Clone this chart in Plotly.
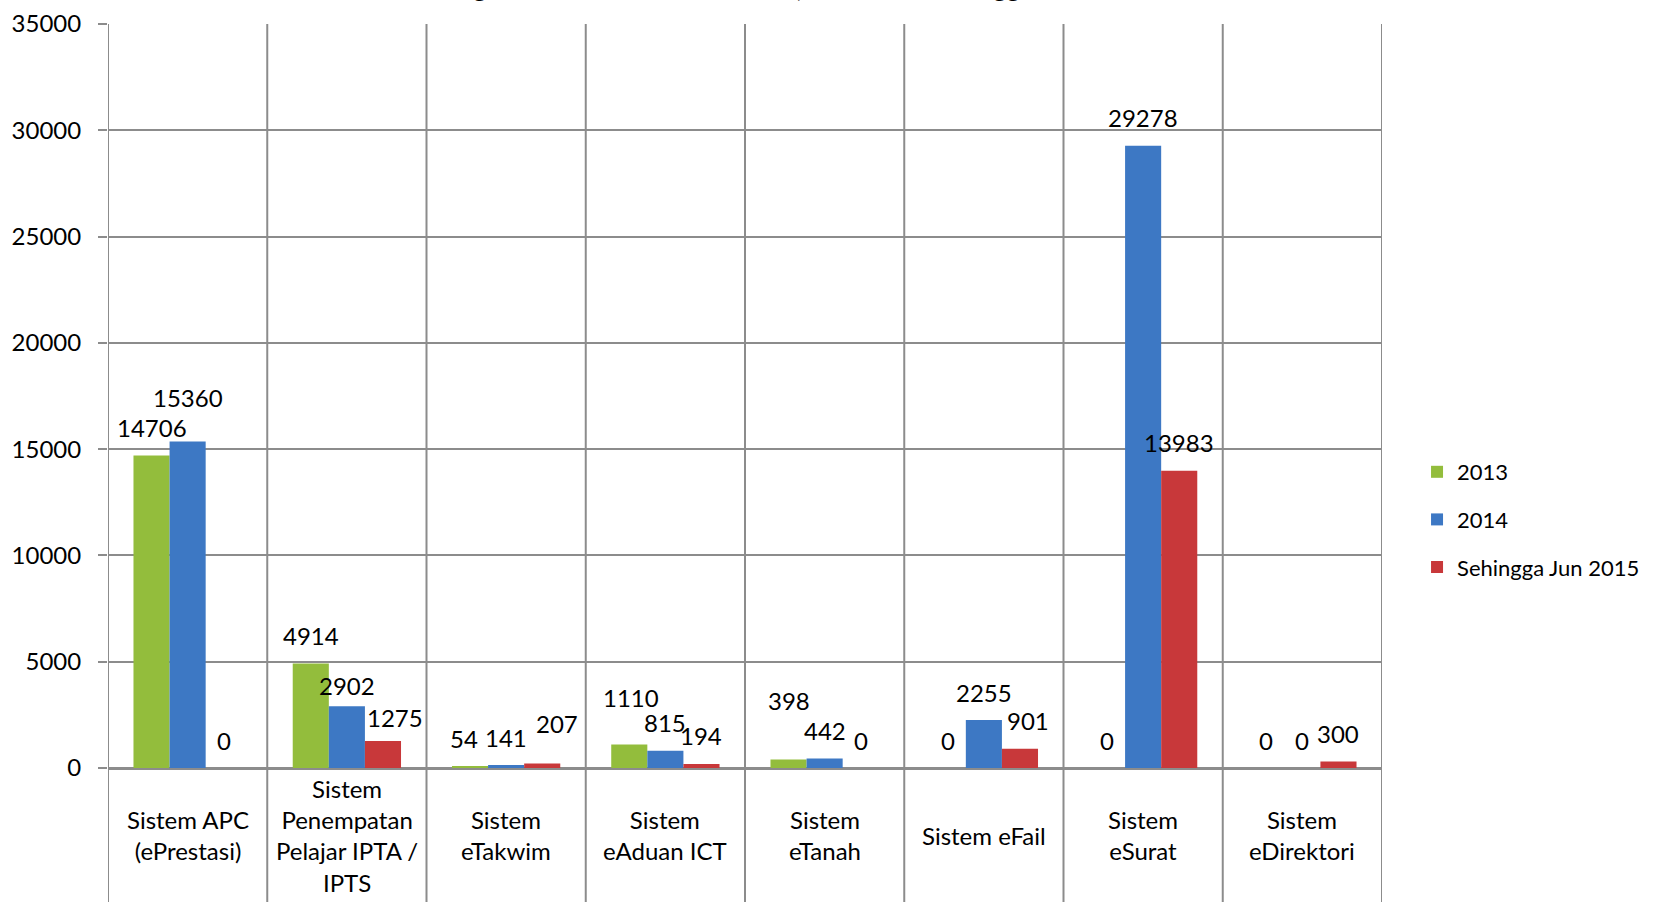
import plotly.graph_objects as go

categories = [
    "Sistem APC<br>(ePrestasi)",
    "Sistem<br>Penempatan<br>Pelajar IPTA /<br>IPTS",
    "Sistem<br>eTakwim",
    "Sistem<br>eAduan ICT",
    "Sistem<br>eTanah",
    "Sistem eFail",
    "Sistem<br>eSurat",
    "Sistem<br>eDirektori",
]
series_names = ["2013", "2014", "Sehingga Jun 2015"]
v2013 = [14706, 4914, 54, 1110, 398, 0, 0, 0]
v2014 = [15360, 2902, 141, 815, 442, 2255, 29278, 0]
v2015 = [0, 1275, 207, 194, 0, 901, 13983, 300]
values = [v2013, v2014, v2015]

colors = ["#93bd3c", "#3d78c4", "#c8383a"]

# label nudges (pixels) relative to default placement, per series
label_dx = [
    [0, 0, -6, 2, 0, 0, 0, 0],
    [0, 0, 0, 0, 0, 0, 0, 0],
    [0, 12, 15, 0, 0, 8, 0, 0],
]
label_dy = [
    [0, 0, 0, 19, 31, 0, 0, 0],
    [16, -7, 0, 0, 0, 0, 0, 0],
    [0, -5, 12, 0, 0, 0, 0, 0],
]

FONT = "Lato"
FS = 24
W, H = 1659, 902
ML, MR, MT, MB = 108, 277, 24, 134
plot_w = W - ML - MR
plot_h = H - MT - MB
n = len(categories)
bargap = 0.32
cat_px = plot_w / n
bar_px = cat_px * (1 - bargap) / 3

fig = go.Figure()
for s in range(3):
    fig.add_trace(go.Bar(
        x=list(range(n)), y=values[s], name=series_names[s],
        marker=dict(color=colors[s], line=dict(width=0)),
        legendgroup=series_names[s],
    ))

ann = []
for s in range(3):
    for i in range(n):
        ann.append(dict(
            x=i, y=values[s][i], xref="x", yref="y",
            text=str(values[s][i]), showarrow=False,
            xshift=(s - 1) * bar_px + label_dx[s][i],
            yshift=28 + label_dy[s][i],
            yanchor="middle", xanchor="center",
            font=dict(family=FONT, size=FS, color="#000000"),
        ))

# category labels centred below axis
for i, c in enumerate(categories):
    ann.append(dict(
        x=i, y=0, xref="x", yref="paper", text=c, showarrow=False,
        yshift=-67, yanchor="middle", xanchor="center",
        font=dict(family=FONT, size=FS, color="#000000"),
    ))

# title (cropped at top edge as in reference)
ann.append(dict(
    x=0.5, y=1, xref="paper", yref="paper",
    text="<b>Statistik Log Masuk Sistem Tahun 2013, 2014 Dan Sehingga Jun 2015</b>",
    showarrow=False, xanchor="center", yanchor="bottom", yshift=19,
    font=dict(family=FONT, size=26, color="#000000"),
))

shapes = []
for i in range(n + 1):
    shapes.append(dict(
        type="line", xref="x", yref="paper",
        x0=i - 0.5, x1=i - 0.5, y0=-MB / plot_h, y1=1,
        line=dict(color="#8c8c8c", width=2), layer="below",
    ))

fig.update_layout(
    width=W, height=H,
    margin=dict(l=ML, r=MR, t=MT, b=MB, pad=0, autoexpand=False),
    paper_bgcolor="white", plot_bgcolor="white",
    barmode="group", bargap=bargap, bargroupgap=0,
    font=dict(family=FONT, size=FS, color="#000000"),
    xaxis=dict(range=[-0.5, n - 0.5], showticklabels=False, showgrid=False,
               zeroline=False, showline=False, ticks=""),
    yaxis=dict(range=[0, 35000], dtick=5000, tickformat="d", showgrid=True,
               gridcolor="#8c8c8c", gridwidth=2, zeroline=True,
               zerolinecolor="#8c8c8c", zerolinewidth=3,
               showline=False, ticks="outside", ticklen=9,
               tickcolor="#8c8c8c", tickwidth=2,
               ticklabelstandoff=12, automargin=False,
               tickfont=dict(family=FONT, size=FS, color="#000000")),
    legend=dict(x=1.0275, y=0.334, xanchor="left", yanchor="middle",
                font=dict(family=FONT, size=22, color="#000000"),
                tracegroupgap=16, itemwidth=30, bgcolor="rgba(0,0,0,0)"),
    annotations=ann, shapes=shapes,
    showlegend=True,
)

fig.write_html(
    "out.html",
    config={"displayModeBar": False},
    post_script="document.body.style.margin='0';document.body.style.overflow='hidden';",
)
